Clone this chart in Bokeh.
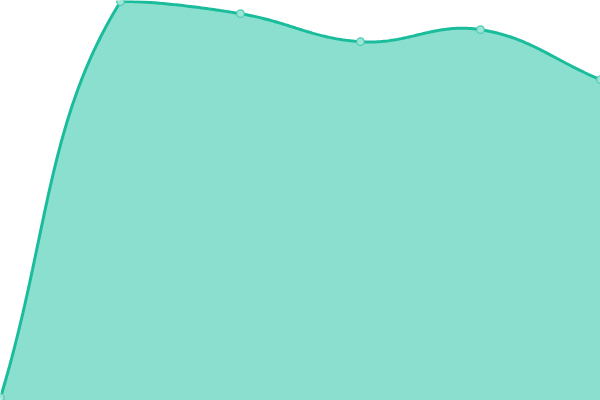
import numpy as np
from bokeh.plotting import figure
from bokeh.models import Range1d, GlobalInlineStyleSheet
from bokeh.embed import file_html
from bokeh.resources import INLINE

# ---- data ----
categories = ["A", "B", "C", "D", "E", "F"]
values = [1, 100, 97, 90, 93, 80.5]

Y_MIN, Y_MAX = 0.25, 100.3
W, H = 600, 400
TENSION = 0.4

x = np.arange(len(values), dtype=float)
y = np.array(values, dtype=float)

# pixel mapping used for Chart.js-like spline control points
x_min, x_max = 0.0, float(len(values) - 1)
def to_px(xv, yv):
    return (xv - x_min) / (x_max - x_min) * W, H - (yv - Y_MIN) / (Y_MAX - Y_MIN) * H
def from_px(px, py):
    return px / W * (x_max - x_min) + x_min, (H - py) / H * (Y_MAX - Y_MIN) + Y_MIN

px, py = to_px(x, y)
n = len(px)
cp_prev = np.zeros((n, 2))
cp_next = np.zeros((n, 2))
for i in range(n):
    cur = np.array([px[i], py[i]])
    prev = np.array([px[i - 1], py[i - 1]]) if i > 0 else cur
    nxt = np.array([px[i + 1], py[i + 1]]) if i < n - 1 else cur
    d01 = np.linalg.norm(cur - prev)
    d12 = np.linalg.norm(nxt - cur)
    tot = d01 + d12
    s01 = d01 / tot if tot else 0
    s12 = d12 / tot if tot else 0
    fa, fb = TENSION * s01, TENSION * s12
    cp_prev[i] = cur - fa * (nxt - prev)
    cp_next[i] = cur + fb * (nxt - prev)
# cap control points to chart area
cp_prev[:, 0] = np.clip(cp_prev[:, 0], 0, W); cp_prev[:, 1] = np.clip(cp_prev[:, 1], 0, H)
cp_next[:, 0] = np.clip(cp_next[:, 0], 0, W); cp_next[:, 1] = np.clip(cp_next[:, 1], 0, H)

# sample bezier segments for the curve
t = np.linspace(0, 1, 60)[:, None]
curve = []
for i in range(n - 1):
    p0 = np.array([px[i], py[i]]); p3 = np.array([px[i + 1], py[i + 1]])
    c1 = cp_next[i]; c2 = cp_prev[i + 1]
    seg = ((1 - t) ** 3) * p0 + 3 * ((1 - t) ** 2) * t * c1 + 3 * (1 - t) * t ** 2 * c2 + t ** 3 * p3
    curve.append(seg if i == 0 else seg[1:])
curve = np.vstack(curve)
cx, cy = from_px(curve[:, 0], curve[:, 1])

p = figure(width=W, height=H, output_backend="svg", toolbar_location=None,
           x_range=Range1d(x_min, x_max), y_range=Range1d(Y_MIN, Y_MAX),
           min_border=0, min_border_left=0, min_border_right=0,
           min_border_top=0, min_border_bottom=0)
p.axis.visible = False
p.grid.visible = False
p.outline_line_color = None
p.background_fill_color = "white"
p.border_fill_color = "white"

fill_x = np.concatenate([cx, [cx[-1], cx[0]]])
fill_y = np.concatenate([cy, [Y_MIN, Y_MIN]])
p.patch(fill_x, fill_y, fill_color="#8adfcf", line_color=None)
p.line(cx, cy, line_color="#1abc9c", line_width=3)
p.scatter(x, y, size=7.5, fill_color="#9de5d7", line_color="#4ccbb0", line_width=1.2)

p.stylesheets = [GlobalInlineStyleSheet(css="html,body{margin:0;padding:0;overflow:hidden;}")]

open("out.html", "w").write(file_html(p, INLINE))
